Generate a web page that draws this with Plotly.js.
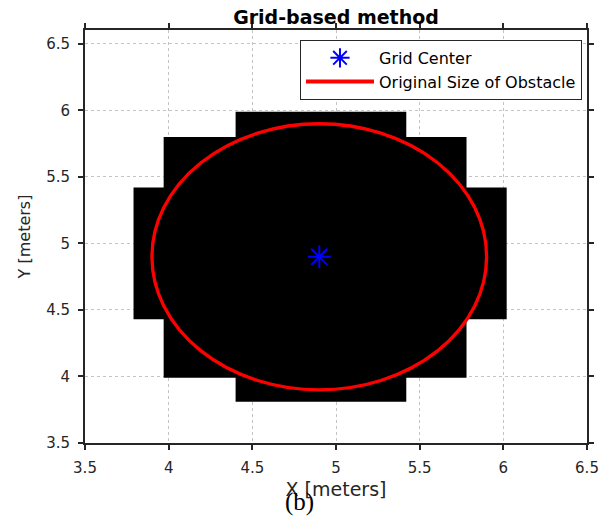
<!DOCTYPE html>
<html>
<head>
<meta charset="utf-8">
<script src="https://cdn.plot.ly/plotly-3.0.1.min.js"></script>
<style>html,body{margin:0;padding:0;background:#fff;}#chart{width:610px;height:517px;}</style>
</head>
<body>
<div id="chart"></div>
<script>
// Occupied grid blocks (rectangles), in meters
const blockLeft   = [4.40, 3.97, 3.79];
const blockRight  = [5.42, 5.78, 6.02];
const blockBottom = [3.81, 3.99, 4.43];
const blockTop    = [5.99, 5.80, 5.42];

// Grid center point
const gridCenterX = [4.9];
const gridCenterY = [4.9];

// Original obstacle (circle): bounding box in meters
const obstacleX = [3.9, 5.9];
const obstacleY = [3.9, 5.9];

// Tick labels
const xTickVals = [3.5, 4, 4.5, 5, 5.5, 6, 6.5];
const xTickText = ['3.5', '4', '4.5', '5', '5.5', '6', '6.5'];
const yTickVals = [3.5, 4, 4.5, 5, 5.5, 6, 6.5];
const yTickText = ['3.5', '4', '4.5', '5', '5.5', '6', '6.5'];

const axisColor = '#262626';
const FONT = 'DejaVu Sans, Arial, sans-serif';

const traces = [];
for (let i = 0; i < blockLeft.length; i++) {
  traces.push({
    type: 'scatter', mode: 'lines',
    x: [blockLeft[i], blockRight[i], blockRight[i], blockLeft[i], blockLeft[i]],
    y: [blockBottom[i], blockBottom[i], blockTop[i], blockTop[i], blockBottom[i]],
    fill: 'toself', fillcolor: '#000000',
    line: {color: '#000000', width: 0},
    showlegend: false, hoverinfo: 'skip'
  });
}
traces.push({
  type: 'scatter', mode: 'markers', name: 'Grid Center',
  x: gridCenterX, y: gridCenterY,
  marker: {symbol: 'asterisk-open', size: 19, color: '#0000ff', line: {color: '#0000ff', width: 2}}
});
traces.push({
  type: 'scatter', mode: 'lines', name: 'Original Size of Obstacle',
  x: [null], y: [null],
  line: {color: '#ff0000', width: 4}
});

const axisCommon = {
  showline: true, mirror: 'ticks', linecolor: axisColor, linewidth: 2,
  ticks: 'outside', ticklen: 5, tickwidth: 2, tickcolor: axisColor,
  showgrid: true, gridcolor: '#c4c4c4', griddash: 'dot', gridwidth: 1,
  zeroline: false, tickfont: {family: FONT, size: 15, color: axisColor},
  fixedrange: true
};

const layout = {
  width: 610, height: 517,
  margin: {l: 85, r: 23, t: 30, b: 74},
  paper_bgcolor: '#ffffff', plot_bgcolor: '#ffffff',
  title: {
    text: '<b>Grid-based method</b>',
    font: {family: FONT, size: 19, color: '#000000'},
    x: 0.5, xref: 'paper', xanchor: 'center',
    y: 1 - 17/517, yref: 'container', yanchor: 'middle'
  },
  xaxis: Object.assign({}, axisCommon, {
    range: [3.5, 6.5], tickvals: xTickVals, ticktext: xTickText,
    ticklabelstandoff: 5,
    title: {text: 'X [meters]', font: {family: FONT, size: 19, color: axisColor}, standoff: 7}
  }),
  yaxis: Object.assign({}, axisCommon, {
    range: [3.5, 6.605], tickvals: yTickVals, ticktext: yTickText,
    ticklabelstandoff: 5,
    title: {text: 'Y [meters]', font: {family: FONT, size: 16, color: axisColor}, standoff: 12}
  }),
  legend: {
    x: 0.99, y: 0.976, xanchor: 'right', yanchor: 'top',
    bgcolor: '#ffffff', bordercolor: axisColor, borderwidth: 1,
    font: {family: FONT, size: 16, color: '#000000'},
    itemwidth: 68
  },
  shapes: [{
    type: 'circle', xref: 'x', yref: 'y',
    x0: obstacleX[0], x1: obstacleX[1], y0: obstacleY[0], y1: obstacleY[1],
    line: {color: '#ff0000', width: 3.3}, layer: 'above'
  }],
  annotations: [{
    text: '(b)', xref: 'paper', yref: 'paper', x: 0.428, y: -0.143,
    xanchor: 'center', yanchor: 'middle', showarrow: false,
    font: {family: 'Liberation Serif, Times New Roman, serif', size: 25, color: '#000000'}
  }]
};

Plotly.newPlot('chart', traces, layout, {displayModeBar: false, staticPlot: true});
</script>
</body>
</html>
